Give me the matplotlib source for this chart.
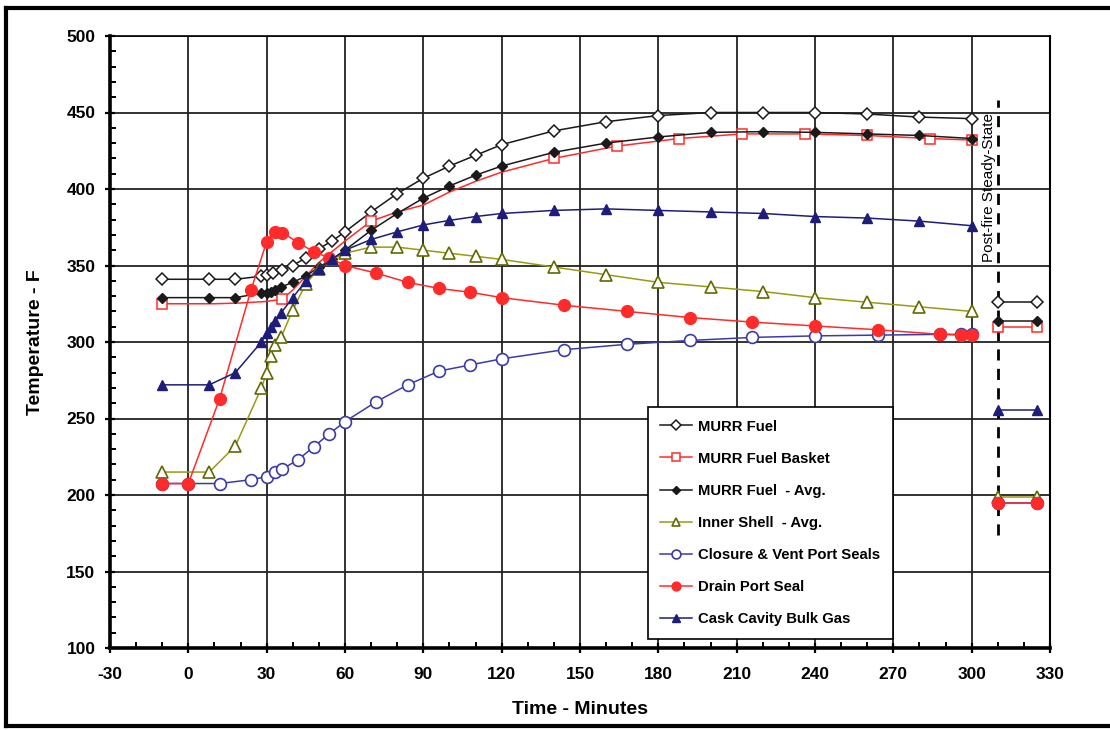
import matplotlib
matplotlib.use("Agg")
import matplotlib.pyplot as plt
from matplotlib.ticker import MultipleLocator
from matplotlib.lines import Line2D

plt.rcParams['font.family'] = ['Liberation Sans', 'DejaVu Sans']
plt.rcParams['axes.unicode_minus'] = False

# ---------------- data ----------------
fuel_t = [-10, 8, 18, 28, 30, 32.5, 36, 40, 45, 50, 55, 60, 70, 80, 90, 100, 110, 120,
          140, 160, 180, 200, 220, 240, 260, 280, 300]
fuel_T = [341, 341, 341, 343, 344, 345, 347, 350, 355, 361, 366, 372, 385, 397, 407, 415,
          422, 429, 438, 444, 448, 450, 450, 450, 449, 447, 446]

bask_t = [-10, 10, 20, 30, 36, 40, 45, 50, 55, 60, 70, 80, 90, 100, 110, 120, 140, 164,
          188, 212, 236, 260, 284, 300]
bask_T = [325, 325, 325.5, 326.5, 328, 334, 343, 352, 359, 366, 379, 385, 389.5, 398, 405,
          411, 420, 428, 433, 436, 436, 435, 433, 432]
bask_marks = [0, 4, 10, 16, 17, 18, 19, 20, 21, 22, 23]

avg_t = [-10, 8, 18, 28, 30, 31.5, 33, 35.5, 40, 45, 50, 55, 60, 70, 80, 90, 100, 110, 120,
         140, 160, 180, 200, 220, 240, 260, 280, 300]
avg_T = [329, 329, 329, 332, 332, 333, 334, 336, 339, 343, 349, 354, 360, 373, 384, 394, 402,
         409, 415, 424, 430, 434, 437, 437.5, 437, 436, 435, 433]

shell_t = [-10, 8, 18, 28, 30, 31.5, 33, 35.5, 40, 45, 50, 55, 60, 70, 80, 90, 100, 110,
           120, 140, 160, 180, 200, 220, 240, 260, 280, 300]
shell_T = [215, 215, 232, 270, 280, 291, 298, 303, 321, 338, 348, 354, 358, 362, 362, 360,
           358, 356, 354, 349, 344, 339, 336, 333, 329, 326, 323, 320]

seal_t = [-10, 0, 12, 24, 30, 33, 36, 42, 48, 54, 60, 72, 84, 96, 108, 120, 144, 168, 192,
          216, 240, 264, 288, 296, 300]
seal_T = [207.5, 207.5, 207.5, 210, 212, 215, 217, 223, 231.5, 240, 248, 261, 272, 281, 285,
          289, 295, 298.5, 301, 303, 304, 304.5, 305, 305, 305]

drain_t = [-10, 0, 12, 24, 30, 33, 36, 42, 48, 54, 60, 72, 84, 96, 108, 120, 144, 168, 192,
           216, 240, 264, 288, 296, 300]
drain_T = [207.5, 207.5, 263, 334, 365.5, 372, 371.5, 365, 359, 355, 350, 345, 339, 335,
           332.5, 329, 324, 320, 316, 313, 310.5, 308, 305, 304.5, 304.5]

gas_t = [-10, 8, 18, 28, 30, 31.5, 33, 35.5, 40, 45, 50, 55, 60, 70, 80, 90, 100, 110, 120,
         140, 160, 180, 200, 220, 240, 260, 280, 300]
gas_T = [272, 272, 280, 300, 306, 310, 314, 319, 329, 340, 348, 354, 360, 367, 372, 376.5,
         379.5, 382, 384, 386, 387, 386, 385, 384, 382, 381, 379, 376]

post_t = [310, 325]
post_fuel = [326, 326]
post_bask = [309.5, 309.5]
post_avg = [314, 314]
post_shell = [199, 199]
post_seal = [195, 195]
post_drain = [195, 195]
post_gas = [255.6, 255.6]

labels = ["MURR Fuel", "MURR Fuel Basket", "MURR Fuel  - Avg.", "Inner Shell  - Avg.",
          "Closure & Vent Port Seals", "Drain Port Seal", "Cask Cavity Bulk Gas"]

x_ticks = list(range(-30, 331, 30))
y_ticks = list(range(100, 501, 50))

# ---------------- styles ----------------
BLACK = '#1a1a1a'
RED = '#ff2b2b'
OLIVE_L = '#9a9a10'
OLIVE_M = '#5f6a00'
BLUE = '#3b3ba8'
NAVY = '#1e1e7a'

styles = [
    dict(color=BLACK, marker='D', ms=6.2, mfc='white', mec=BLACK, mew=1.1, lw=1.1),
    dict(color=RED, marker='s', ms=7.5, mfc='white', mec=RED, mew=1.1, lw=1.1),
    dict(color=BLACK, marker='D', ms=5.0, mfc=BLACK, mec=BLACK, mew=1.0, lw=1.1),
    dict(color=OLIVE_L, marker='^', ms=8.5, mfc='white', mec=OLIVE_M, mew=1.2, lw=1.1),
    dict(color=BLUE, marker='o', ms=8.5, mfc='white', mec=BLUE, mew=1.2, lw=1.1),
    dict(color=RED, marker='o', ms=8.5, mfc=RED, mec=RED, mew=1.0, lw=1.1),
    dict(color=NAVY, marker='^', ms=7.5, mfc=NAVY, mec=NAVY, mew=1.0, lw=1.1),
]

fig = plt.figure(figsize=(11.1, 7.3), dpi=100)
ax = fig.add_axes([110 / 1110, 1 - 648 / 730, 940 / 1110, 612 / 730])

series = [
    (fuel_t, fuel_T, None, post_fuel),
    (bask_t, bask_T, bask_marks, post_bask),
    (avg_t, avg_T, None, post_avg),
    (shell_t, shell_T, None, post_shell),
    (seal_t, seal_T, None, post_seal),
    (drain_t, drain_T, None, post_drain),
    (gas_t, gas_T, None, post_gas),
]
for i, (t, T, mk, post) in enumerate(series):
    st = styles[i]
    ax.plot(t, T, markevery=mk, zorder=3 + i * 0.1, **st)
    ax.plot(post_t, post, zorder=3 + i * 0.1, **st)

# post-fire line + text
ax.plot([310, 310], [174, 458], color='black', lw=2.0, ls=(0, (4, 3)), zorder=2.5)
ax.text(306.6, 450, "Post-fire Steady-State", rotation=90, ha='center', va='top',
        fontsize=11, color='black', zorder=4)

# axes
ax.set_xlim(-30, 330)
ax.set_ylim(100, 500)
ax.set_xticks(x_ticks)
ax.set_yticks(y_ticks)
ax.xaxis.set_minor_locator(MultipleLocator(10))
ax.yaxis.set_minor_locator(MultipleLocator(10))
ax.grid(True, which='major', color='#222222', lw=1.3, zorder=1)
ax.set_axisbelow(True)
for lab in ax.get_xticklabels() + ax.get_yticklabels():
    lab.set_fontweight('bold')
ax.tick_params(axis='both', which='major', direction='inout', length=7, width=1.6,
               labelsize=12.5, color='black')
ax.tick_params(axis='x', which='major', pad=10)
ax.tick_params(axis='y', which='major', pad=7)
ax.tick_params(axis='both', which='minor', direction='in', length=4, width=1.4, color='black')
ax.spines['left'].set_linewidth(2.6)
ax.spines['bottom'].set_linewidth(2.6)
ax.spines['top'].set_linewidth(1.2)
ax.spines['right'].set_linewidth(1.5)
ax.set_xlabel("Time - Minutes", fontsize=14, fontweight='bold', labelpad=14)
ax.set_ylabel("Temperature - F", fontsize=14, fontweight='bold', labelpad=16)

# legend
handles = [Line2D([], [], **{**st, 'ms': st['ms'] * 0.75}) for st in styles]
leg = ax.legend(handles, labels, loc='upper left', bbox_to_anchor=(0.572, 0.394),
                prop={'weight': 'bold', 'size': 10.7}, frameon=True, fancybox=False,
                edgecolor='black', framealpha=1, labelspacing=1.22, handlelength=2.1,
                handletextpad=0.45, borderpad=0.85, borderaxespad=0)
leg.get_frame().set_linewidth(1.2)
leg.set_zorder(10)

# figure border
fig.add_artist(Line2D([6 / 1110, 1.0], [1 - 8 / 730, 1 - 8 / 730], transform=fig.transFigure,
                      color='black', lw=3))
fig.add_artist(Line2D([6 / 1110, 6 / 1110], [1 - 8 / 730, 1 - 726 / 730],
                      transform=fig.transFigure, color='black', lw=3))
fig.add_artist(Line2D([6 / 1110, 1.0], [1 - 726 / 730, 1 - 726 / 730],
                      transform=fig.transFigure, color='black', lw=3))

fig.savefig("out.png", dpi=100)
